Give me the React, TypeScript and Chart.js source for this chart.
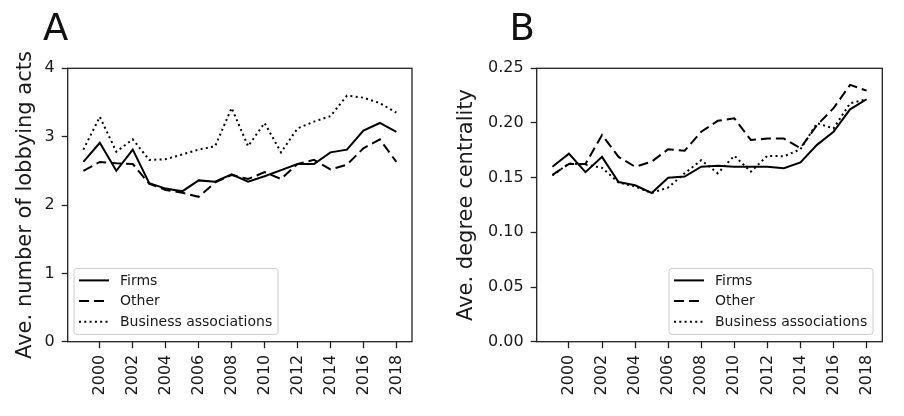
import React, { useEffect, useRef } from 'react';
import { Chart, registerables } from 'chart.js';

Chart.register(...registerables);

const years = [1999, 2000, 2001, 2002, 2003, 2004, 2005, 2006, 2007, 2008, 2009, 2010, 2011, 2012, 2013, 2014, 2015, 2016, 2017, 2018];
const seriesLabels = ['Firms', 'Other', 'Business associations'];

const lobbyFirms = [2.63, 2.91, 2.5, 2.81, 2.32, 2.24, 2.2, 2.36, 2.34, 2.45, 2.34, 2.42, 2.51, 2.6, 2.6, 2.77, 2.81, 3.09, 3.2, 3.07];
const lobbyOther = [2.5, 2.63, 2.61, 2.6, 2.31, 2.22, 2.18, 2.12, 2.33, 2.44, 2.38, 2.48, 2.38, 2.6, 2.66, 2.52, 2.59, 2.83, 2.96, 2.63];
const lobbyBiz = [2.81, 3.29, 2.78, 2.96, 2.66, 2.67, 2.74, 2.81, 2.86, 3.42, 2.86, 3.2, 2.77, 3.12, 3.22, 3.3, 3.6, 3.57, 3.49, 3.35];

const centFirms = [0.16, 0.172, 0.155, 0.169, 0.146, 0.143, 0.136, 0.15, 0.151, 0.16, 0.161, 0.16, 0.16, 0.16, 0.1586, 0.164, 0.18, 0.192, 0.2125, 0.2217];
const centOther = [0.1525, 0.1625, 0.1625, 0.189, 0.169, 0.16, 0.1646, 0.176, 0.1747, 0.192, 0.202, 0.2043, 0.1845, 0.1857, 0.1857, 0.177, 0.198, 0.2135, 0.2348, 0.2296];
const centBiz = [0.152, 0.163, 0.162, 0.159, 0.1455, 0.142, 0.136, 0.141, 0.154, 0.166, 0.154, 0.17, 0.1555, 0.17, 0.1695, 0.176, 0.1998, 0.195, 0.218, 0.2217];

const lobbyYTicks = { min: 0, max: 4, step: 1 };
const centYTicks = { min: 0, max: 0.25, step: 0.05 };
const xTicks = { min: 1998.05, max: 2018.95, step: 2 };

const FONT = "'DejaVu Sans', 'Liberation Sans', sans-serif";
const INK = '#1a1a1a';
const dashes = [[], [10, 5], [2, 3.3]];

const decoPlugin = {
  id: 'panelDeco',
  afterDraw(chart: any, _args: any, opts: any) {
    const ctx = chart.ctx;
    const ca = chart.chartArea;
    ctx.save();
    // frame
    ctx.strokeStyle = '#222';
    ctx.lineWidth = 1.3;
    ctx.setLineDash([]);
    ctx.strokeRect(ca.left, ca.top, ca.right - ca.left, ca.bottom - ca.top);
    // panel letter
    ctx.fillStyle = '#111';
    ctx.font = `37px ${FONT}`;
    ctx.textBaseline = 'alphabetic';
    ctx.textAlign = 'left';
    ctx.fillText(opts.letter, opts.letterX, opts.letterY);
    // legend
    const w = 204;
    const h = 66;
    const bx = opts.legendSide === 'left' ? ca.left + 6.3 : ca.right - 9.3 - w;
    const by = ca.bottom - 7.3 - h;
    ctx.beginPath();
    if (ctx.roundRect) ctx.roundRect(bx, by, w, h, 3);
    else ctx.rect(bx, by, w, h);
    ctx.fillStyle = 'rgba(255,255,255,0.8)';
    ctx.fill();
    ctx.strokeStyle = '#cccccc';
    ctx.lineWidth = 1;
    ctx.stroke();
    ctx.font = `14px ${FONT}`;
    ctx.textBaseline = 'middle';
    chart.data.datasets.forEach((ds: any, i: number) => {
      const cy = by + 12 + i * 20.7;
      ctx.beginPath();
      ctx.setLineDash(ds.borderDash || []);
      ctx.lineDashOffset = 0;
      ctx.strokeStyle = ds.borderColor;
      ctx.lineWidth = ds.borderWidth;
      ctx.lineCap = 'butt';
      ctx.moveTo(bx + 5, cy);
      ctx.lineTo(bx + 35, cy);
      ctx.stroke();
      ctx.setLineDash([]);
      ctx.fillStyle = INK;
      ctx.fillText(ds.label, bx + 46, cy + 0.5);
    });
    ctx.restore();
  },
};

function makeConfig(
  series: number[][],
  yt: { min: number; max: number; step: number },
  yTitle: string,
  yFmt: (v: number) => string,
  leftW: number,
  rightPad: number,
  titlePad: number,
  deco: any
): any {
  return {
    type: 'line',
    data: {
      datasets: series.map((vals, i) => ({
        label: seriesLabels[i],
        data: years.map((yr, j) => ({ x: yr, y: vals[j] })),
        borderColor: '#000',
        borderWidth: 2,
        borderDash: dashes[i],
        pointRadius: 0,
        tension: 0,
        fill: false,
      })),
    },
    options: {
      responsive: false,
      maintainAspectRatio: false,
      animation: false,
      devicePixelRatio: 1,
      layout: { padding: { left: 0, top: 68.3, right: rightPad, bottom: 0 } },
      plugins: {
        legend: { display: false },
        tooltip: { enabled: false },
        panelDeco: deco,
      },
      scales: {
        x: {
          type: 'linear',
          min: xTicks.min,
          max: xTicks.max,
          afterFit: (s: any) => {
            s.height = 74.3;
          },
          grid: { drawOnChartArea: false, drawTicks: true, tickLength: 6.5, tickColor: '#222', tickWidth: 1.3 },
          border: { display: false },
          ticks: {
            stepSize: xTicks.step,
            includeBounds: false,
            autoSkip: false,
            minRotation: 90,
            maxRotation: 90,
            padding: 6.5,
            color: INK,
            font: { family: FONT, size: 16 },
            callback: (v: number) => String(Math.round(v)),
          },
        },
        y: {
          type: 'linear',
          min: yt.min,
          max: yt.max,
          afterFit: (s: any) => {
            s.width = leftW;
          },
          grid: { drawOnChartArea: false, drawTicks: true, tickLength: 6, tickColor: '#222', tickWidth: 1.3 },
          border: { display: false },
          ticks: {
            stepSize: yt.step,
            padding: 7,
            color: INK,
            font: { family: FONT, size: 16 },
            callback: (v: number) => yFmt(v),
          },
          title: {
            display: true,
            text: yTitle,
            color: INK,
            font: { family: FONT, size: 21 },
            padding: { top: titlePad, bottom: 0 },
          },
        },
      },
    },
    plugins: [decoPlugin],
  };
}

function Panel(props: { config: any; left: number }) {
  const ref = useRef<HTMLCanvasElement | null>(null);
  useEffect(() => {
    if (!ref.current) return;
    const chart = new Chart(ref.current, props.config);
    return () => chart.destroy();
  }, []);
  return (
    <canvas
      ref={ref}
      width={452}
      height={416}
      style={{ position: 'absolute', left: props.left, top: 0, width: 452, height: 416 }}
    />
  );
}

export default function App() {
  const cfgA = makeConfig(
    [lobbyFirms, lobbyOther, lobbyBiz],
    lobbyYTicks,
    'Ave. number of lobbying acts',
    (v) => String(Math.round(v)),
    67.7,
    40,
    13.4,
    { letter: 'A', letterX: 43, letterY: 40, legendSide: 'left' }
  );
  const cfgB = makeConfig(
    [centFirms, centOther, centBiz],
    centYTicks,
    'Ave. degree centrality',
    (v) => v.toFixed(2),
    84.7,
    21.7,
    1.5,
    { letter: 'B', letterX: 57.5, letterY: 39.5, legendSide: 'right' }
  );
  return (
    <div style={{ position: 'fixed', left: 0, top: 0, width: 904, height: 416, background: '#fff' }}>
      <Panel config={cfgA} left={0} />
      <Panel config={cfgB} left={452} />
    </div>
  );
}
